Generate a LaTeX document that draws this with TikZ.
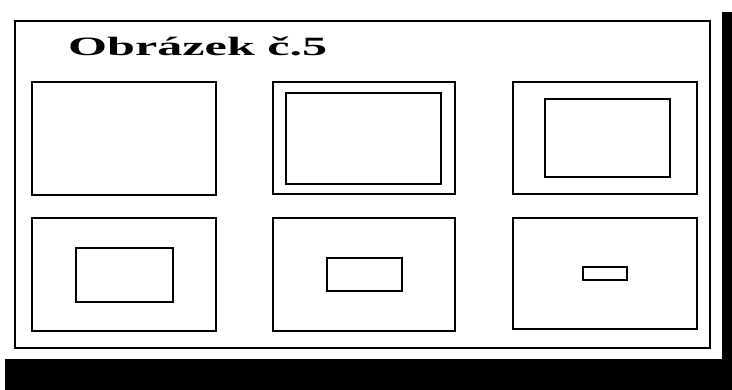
\documentclass[tikz,border=0pt]{standalone}
\usepackage{fontspec}
\setmainfont{Liberation Serif}
\begin{document}
\begin{tikzpicture}[x=1pt,y=-1pt,
  box/.style={draw=black,line width=1.3pt},
  shadow/.style={fill=black,draw=none}]
\useasboundingbox (0,0) rectangle (732,390);
\fill[white] (0,0) rectangle (732,390);
% shadow
\path[shadow] (722,12) rectangle (732,390);
\path[shadow] (5,359) rectangle (732,390);
% frame
\draw[box] (15,21) rectangle (710,348);
% title
\node[anchor=base west,inner sep=0pt] (title) at (68,55.5)
  {\scalebox{1.9}[1]{\fontsize{26.4}{30}\selectfont\bfseries Obrázek č.5}};
% row 1
\draw[box] (32,82) rectangle (216,195);
\draw[box] (273,82) rectangle (455,194);
\draw[box] (286,93) rectangle (441,184);
\draw[box] (513,82) rectangle (697,194);
\draw[box] (545,99) rectangle (670,177);
% row 2
\draw[box] (32,218) rectangle (216,331);
\draw[box] (76,248) rectangle (173,302);
\draw[box] (273,218) rectangle (455,331);
\draw[box] (327,258) rectangle (402,291);
\draw[box] (513,218) rectangle (697,329);
\draw[box] (583,267) rectangle (627,280);
\end{tikzpicture}
\end{document}
